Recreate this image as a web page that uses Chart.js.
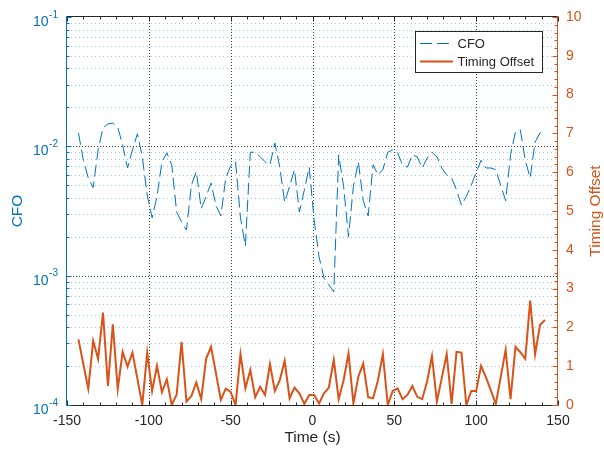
<!DOCTYPE html>
<html lang="en">
<head>
  <meta charset="UTF-8">
  <title>CFO and Timing Offset</title>
  <script src="https://cdn.jsdelivr.net/npm/chart.js@4.4.1/dist/chart.umd.min.js"></script>
  <style>
    *{box-sizing:border-box}
    body{margin:0;background:#fff}
    canvas{display:block}
  </style>
</head>
<body>
<canvas id="chart" width="604" height="455"></canvas>
<script>
/****************  DATA  ****************/
// sample times (s)
const times=[-143,-140,-137,-134,-131,-128,-125,-122,-119,-116,-113,-110,-107,-104,-101,-98,-95,-92,-89,-86,
  -83,-80,-77,-74,-71,-68,-65,-62,-59,-56,-53,-50,-47,-44,-41,-38,-35,-32,-29,-26,
  -23,-20,-17,-14,-11,-8,-5,-2,1,4,7,10,13,16,19,22,25,28,31,34,
  37,40,43,46,49,52,55,58,61,64,67,70,73,76,79,82,85,88,91,94,
  97,100,103,106,109,112,115,118,121,124,127,130,133,136,139,142];
// CFO (left, log axis)
const cfo=[0.0127,0.0078,0.0057,0.0048,0.0094,0.0139,0.0149,0.0151,0.0141,0.0102,
  0.0068,0.0094,0.0125,0.0083,0.0042,0.0028,0.0041,0.0076,0.0089,0.0072,
  0.0031,0.0026,0.00225,0.0050,0.0064,0.0033,0.0041,0.0052,0.0035,0.0029,
  0.0057,0.0071,0.0076,0.0028,0.0017,0.0090,0.0090,0.0083,0.0076,0.0072,
  0.0106,0.0069,0.0037,0.0049,0.0066,0.0031,0.0046,0.0069,0.0027,0.0014,
  0.00096,0.00085,0.00075,0.0086,0.0049,0.0020,0.0049,0.0076,0.0038,0.0029,
  0.0072,0.0060,0.0066,0.0090,0.0094,0.0089,0.0072,0.0069,0.0086,0.0083,
  0.0068,0.0081,0.0090,0.0083,0.0068,0.0060,0.0057,0.0046,0.0035,0.0041,
  0.0050,0.0063,0.0078,0.0068,0.0068,0.0066,0.0050,0.0038,0.0086,0.0129,
  0.0134,0.0078,0.0057,0.0108,0.0127,0.0129];
// Timing offset (right, linear axis)
const timingOffset=[1.69,1.05,0.42,1.65,1.19,2.38,0.49,2.08,0.41,1.37,
  0.99,1.35,0.68,0,1.35,0.36,1.01,0.33,0.66,0,
  0.27,1.63,0.09,0.23,0.58,0.15,1.19,1.50,0.82,0.13,
  0.42,0.34,0,1.31,0.43,0.90,0.20,0.47,0.26,1.05,
  0.36,0.64,1.14,0.17,0.45,0.30,0.03,0.26,0.26,0.04,
  0.30,0.45,1.16,0.15,0.64,1.33,0.04,0.73,1.07,0.20,
  0.17,0.64,1.31,0,0.36,0.43,0.15,0.26,0.49,0.21,
  0.15,0.60,1.26,0.09,0.70,1.31,0.03,1.37,1.35,0,
  0.36,0.36,1.01,0.71,0.37,0.03,0.72,1.42,0.15,1.50,
  1.36,1.19,2.69,1.31,2.06,2.19];

// tick labels
const xTicks=[-150,-100,-50,0,50,100,150];
const xGrid=[-100,-50,0,50,100];
const leftDecades=[-4,-3,-2,-1];
const rightTicks=[0,1,2,3,4,5,6,7,8,9,10];
const seriesNames=['CFO','Timing Offset'];

/****************  STYLE  ****************/
const BLUE='#0072BD', ORANGE='#D95319', INK='#262626';
const FONT='"Liberation Sans", Arial, Helvetica, sans-serif';
const DASH=[12,5];

function seg(ctx,x1,y1,x2,y2){ctx.beginPath();ctx.moveTo(x1,y1);ctx.lineTo(x2,y2);ctx.stroke();}

/****************  MATLAB-LIKE AXES PLUGIN  ****************/
const matlabAxes={
  id:'matlabAxes',
  beforeDatasetsDraw(chart){
    const {ctx,chartArea:a,scales:{x,y}}=chart;
    ctx.save();
    ctx.lineWidth=1;
    // minor log grid (light blue dots)
    ctx.setLineDash([1,3]);
    ctx.strokeStyle='rgba(0,114,189,0.4)';
    leftDecades.slice(0,-1).forEach(d=>{
      for(let m=2;m<=9;m++){
        const py=Math.round(y.getPixelForValue(m*Math.pow(10,d)))+0.5;
        seg(ctx,a.left,py,a.right,py);
      }
    });
    // major grid
    ctx.setLineDash([1,2]);
    ctx.strokeStyle='rgba(38,38,38,0.9)';
    leftDecades.slice(1,-1).forEach(d=>{
      const py=Math.round(y.getPixelForValue(Math.pow(10,d)))+0.5;
      seg(ctx,a.left,py,a.right,py);
    });
    xGrid.forEach(v=>{
      const px=Math.round(x.getPixelForValue(v))+0.5;
      seg(ctx,px,a.top,px,a.bottom);
    });
    ctx.restore();
  },
  afterDatasetsDraw(chart){
    const {ctx,chartArea:a,scales:{x,y,y2}}=chart;
    ctx.save();
    ctx.lineWidth=1;
    ctx.setLineDash([]);
    const xl=Math.round(a.left)-0.5, xr=Math.round(a.right)-0.5;
    const yt=Math.round(a.top)-0.5, yb=Math.round(a.bottom)+0.5;

    // x axis: bottom + top
    ctx.strokeStyle=INK;
    seg(ctx,xl,yb,xr,yb);
    seg(ctx,xl,yt,xr,yt);
    for(let v=-150;v<=150;v+=10){
      const px=Math.round(x.getPixelForValue(v))+0.5;
      const len=(v%50===0)?5:3;
      seg(ctx,px,yb,px,yb-len);
      seg(ctx,px,yt,px,yt+len);
    }

    // left axis (log)
    ctx.strokeStyle=BLUE;
    seg(ctx,xl,yt,xl,yb);
    leftDecades.forEach(d=>{
      const py=Math.round(y.getPixelForValue(Math.pow(10,d)))+0.5;
      seg(ctx,xl,py,xl+5,py);
      if(d<-1){
        for(let m=2;m<=9;m++){
          const pm=Math.round(y.getPixelForValue(m*Math.pow(10,d)))+0.5;
          seg(ctx,xl,pm,xl+3,pm);
        }
      }
    });

    // right axis (linear)
    ctx.strokeStyle=ORANGE;
    seg(ctx,xr,yt,xr,yb);
    for(let k=0;k<=50;k++){
      const v=k/5;
      const py=Math.round(y2.getPixelForValue(v))+0.5;
      const len=(k%5===0)?5:3;
      seg(ctx,xr,py,xr-len,py);
    }

    // left tick labels 10^n
    ctx.fillStyle=BLUE;
    ctx.textBaseline='middle';
    ctx.textAlign='right';
    leftDecades.forEach(d=>{
      const py=y.getPixelForValue(Math.pow(10,d));
      const sup=String(d);
      const rightEdge=a.left-9;
      ctx.font='10px '+FONT;
      const sw=ctx.measureText(sup).width;
      ctx.fillText(sup,rightEdge,py-2);
      ctx.font='14px '+FONT;
      ctx.fillText('10',rightEdge-sw-0.5,py+5);
    });

    // axis titles
    ctx.textAlign='center';
    ctx.font='15.5px '+FONT;
    ctx.fillStyle=INK;
    ctx.fillText('Time (s)',(a.left+a.right)/2,438);
    ctx.save();
    ctx.translate(18,(a.top+a.bottom)/2);
    ctx.rotate(-Math.PI/2);
    ctx.fillStyle=BLUE;
    ctx.fillText('CFO',0,0);
    ctx.restore();
    ctx.save();
    ctx.translate(596,(a.top+a.bottom)/2);
    ctx.rotate(-Math.PI/2);
    ctx.fillStyle=ORANGE;
    ctx.fillText('Timing Offset',0,0);
    ctx.restore();

    // legend box
    const bx=415.5, by=31.5, bw=127, bh=41;
    ctx.fillStyle='#fff';
    ctx.fillRect(bx,by,bw,bh);
    ctx.strokeStyle=INK;
    ctx.strokeRect(bx,by,bw,bh);
    const ds=chart.data.datasets;
    const rows=[43.5,61.5];
    rows.forEach((ry,i)=>{
      ctx.strokeStyle=ds[i].borderColor;
      ctx.lineWidth=ds[i].borderWidth;
      ctx.setLineDash(ds[i].borderDash||[]);
      seg(ctx,420,ry,453,ry);
      ctx.setLineDash([]);
      ctx.fillStyle=INK;
      ctx.font='13px '+FONT;
      ctx.textAlign='left';
      ctx.fillText(seriesNames[i],457.5,ry+0.5);
    });
    ctx.restore();
  }
};

/****************  CHART  ****************/
new Chart(document.getElementById('chart'),{
  type:'line',
  data:{datasets:[
    {label:seriesNames[0],data:times.map((t,i)=>({x:t,y:cfo[i]})),yAxisID:'y',
     borderColor:BLUE,borderWidth:1,borderDash:DASH,pointRadius:0,tension:0,fill:false},
    {label:seriesNames[1],data:times.map((t,i)=>({x:t,y:timingOffset[i]})),yAxisID:'y2',
     borderColor:ORANGE,borderWidth:2,pointRadius:0,tension:0,fill:false}
  ]},
  options:{
    responsive:false,
    animation:false,
    devicePixelRatio:1,
    layout:{padding:{top:17,left:0,right:0,bottom:0}},
    plugins:{legend:{display:false},tooltip:{enabled:false}},
    scales:{
      x:{type:'linear',min:-150,max:150,
        afterBuildTicks:s=>{s.ticks=xTicks.map(v=>({value:v}));},
        afterFit:s=>{s.height=50;},
        grid:{display:false,drawTicks:false},border:{display:false},
        ticks:{color:INK,font:{family:FONT,size:14},padding:8,autoSkip:false,maxRotation:0,minRotation:0}},
      y:{type:'logarithmic',position:'left',min:1e-4,max:1e-1,
        afterFit:s=>{s.width=67;},
        grid:{display:false,drawTicks:false},border:{display:false},
        ticks:{display:false}},
      y2:{type:'linear',position:'right',min:0,max:10,
        afterBuildTicks:s=>{s.ticks=rightTicks.map(v=>({value:v}));},
        afterFit:s=>{s.width=46;},
        grid:{display:false,drawTicks:false},border:{display:false},
        ticks:{color:ORANGE,font:{family:FONT,size:14},padding:8}}
    }
  },
  plugins:[matlabAxes]
});
</script>
</body>
</html>
